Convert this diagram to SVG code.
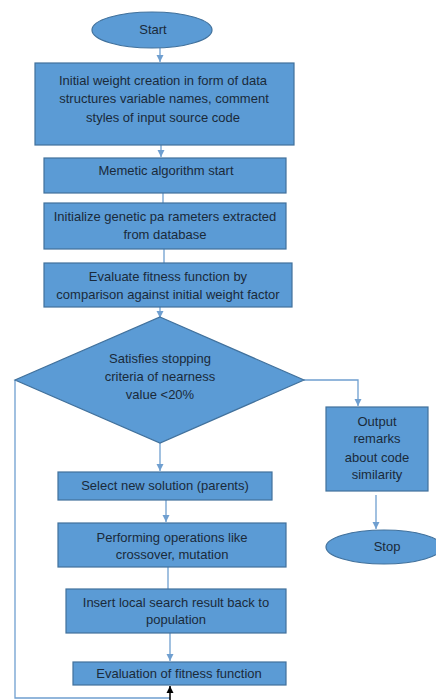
<svg xmlns="http://www.w3.org/2000/svg" width="436" height="700" viewBox="0 0 436 700">
<style>
.n{fill:#5b9bd5;stroke:#41719c;stroke-width:1.2}
.t{font-family:"Liberation Sans",Arial,sans-serif;font-size:13px;fill:#1a2a3a;text-anchor:middle}
.c{fill:none;stroke:#6f9fd0;stroke-width:1.3}
.k{fill:none;stroke:#000;stroke-width:1.5}
</style>
<defs>
<marker id="a" markerWidth="8" markerHeight="8" refX="7" refY="4" orient="auto" markerUnits="userSpaceOnUse"><path d="M0,0.5 L7,4 L0,7.5 Z" fill="#6f9fd0"/></marker>
<marker id="b" markerWidth="8" markerHeight="8" refX="7" refY="4" orient="auto" markerUnits="userSpaceOnUse"><path d="M0,0.5 L7,4 L0,7.5 Z" fill="#000"/></marker>
</defs>
<rect width="436" height="700" fill="#fff"/>
<g id="connectors">
<path class="c" d="M160,48 V62" marker-end="url(#a)"/>
<path class="c" d="M161,145 V157" marker-end="url(#a)"/>
<path class="c" d="M163,193 V203"/>
<path class="c" d="M164,249 V263"/>
<path class="c" d="M160,307 V318" marker-end="url(#a)"/>
<path class="c" d="M160,443 V471" marker-end="url(#a)"/>
<path class="c" d="M166,500 V522" marker-end="url(#a)"/>
<path class="c" d="M168,567 V589"/>
<path class="c" d="M170,633 V661" marker-end="url(#a)"/>
<path class="c" d="M304,380 H358 V406" marker-end="url(#a)"/>
<path class="c" d="M376,495 V529" marker-end="url(#a)"/>
<path class="c" d="M15,380 V698 H170"/>
<path class="k" d="M170,700 V686" marker-end="url(#b)"/>
</g>
<g id="start"><ellipse class="n" cx="152" cy="30" rx="60" ry="18"/><text class="t" x="153" y="30" dy="4">Start</text></g>
<g id="init-weight"><rect class="n" x="35" y="63" width="259" height="82"/>
<text class="t" x="163" y="85">Initial weight creation in form of data</text>
<text class="t" x="164" y="103">structures variable names, comment</text>
<text class="t" x="163" y="122">styles of input source code</text></g>
<g id="memetic-start"><rect class="n" x="44" y="158" width="242" height="35"/><text class="t" x="166" y="175">Memetic algorithm start</text></g>
<g id="init-genetic"><rect class="n" x="44" y="203" width="242" height="46"/>
<text class="t" x="165" y="221">Initialize genetic pa rameters extracted</text>
<text class="t" x="165" y="239">from database</text></g>
<g id="evaluate-fitness"><rect class="n" x="44" y="263" width="248" height="44"/>
<text class="t" x="168" y="281">Evaluate fitness function by</text>
<text class="t" x="168" y="299">comparison against initial weight factor</text></g>
<g id="decision"><polygon class="n" points="160,317 304,380 160,443 15,380"/>
<text class="t" x="160" y="363">Satisfies stopping</text>
<text class="t" x="160" y="381">criteria of nearness</text>
<text class="t" x="160" y="399">value &lt;20%</text></g>
<g id="output"><rect class="n" x="326" y="407" width="102" height="84"/>
<text class="t" x="377" y="426">Output</text>
<text class="t" x="377" y="443">remarks</text>
<text class="t" x="377" y="462">about code</text>
<text class="t" x="377" y="479">similarity</text></g>
<g id="stop"><ellipse class="n" cx="384" cy="547" rx="58" ry="17"/><text class="t" x="387" y="547" dy="4">Stop</text></g>
<g id="select"><rect class="n" x="58" y="472" width="214" height="28"/><text class="t" x="165" y="490">Select new solution (parents)</text></g>
<g id="operations"><rect class="n" x="58" y="523" width="228" height="44"/>
<text class="t" x="172" y="542">Performing operations like</text>
<text class="t" x="172" y="559">crossover, mutation</text></g>
<g id="insert"><rect class="n" x="66" y="589" width="220" height="44"/>
<text class="t" x="176" y="607">Insert local search result back to</text>
<text class="t" x="176" y="624">population</text></g>
<g id="evaluation"><rect class="n" x="73" y="662" width="213" height="23"/><text class="t" x="179" y="678">Evaluation of fitness function</text></g>
</svg>
